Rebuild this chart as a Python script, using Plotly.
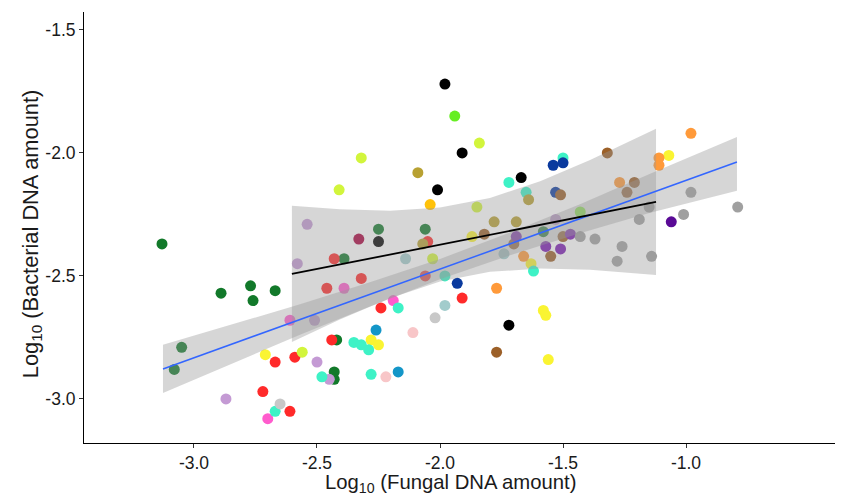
import plotly.graph_objects as go

# ---- scatter data (log10 fungal DNA, log10 bacterial DNA, sample group) ----
fungal_x = [
    -3.13, -2.89, -2.77, -2.76, -2.67, -3.05, -3.08, -2.42, -2.43, -2.43, -2.25, -2.06, -2.39, -1.58,
    -2.54, -2.58, -2.51, -2.50, -2.45, -2.87, -1.53,
    -2.43, -2.46, -2.44, -2.67, -2.59, -2.72, -2.61, -2.05, -2.32, -2.06, -1.91, -2.24,
    -2.39, -2.61, -2.19, -2.70,
    -2.71, -2.28, -2.25, -1.87, -1.63, -1.58, -1.57, -1.56, -1.07,
    -2.56, -2.41, -2.32, -2.03, -1.85, -1.84,
    -2.48, -2.67, -2.35, -2.32, -2.29, -2.28, -2.17, -1.98, -1.72, -1.65, -1.62, -1.50,
    -2.65, -2.02,
    -1.98, -1.91, -2.01, -1.67, -2.25, -1.72,
    -2.09, -1.78, -1.69, -1.64, -2.07,
    -2.04,
    -2.33,
    -2.14, -1.74, -1.98,
    -1.93, -1.54, -1.50, -1.53,
    -1.77, -1.66, -1.27, -1.11, -1.11, -0.98,
    -2.11, -2.22,
    -2.26, -2.17,
    -1.77, -1.32, -1.82, -1.70, -1.21, -1.24, -1.55, -1.50, -1.51,
    -1.69, -1.47, -1.57, -1.51,
    -1.06,
    -1.43, -1.37, -1.26, -1.28, -1.14, -1.19, -1.15, -0.98, -1.01, -0.79,
    -1.94,
    -1.43,
]
bacterial_y = [
    -2.37, -2.57, -2.54, -2.60, -2.56, -2.79, -2.88, -2.76, -2.89, -2.92, -2.31, -2.31, -2.43, -2.32,
    -2.29, -2.45, -2.68, -2.85, -2.92, -3.00, -2.27,
    -2.43, -2.55, -2.76, -2.85, -2.83, -2.97, -3.05, -2.36, -2.51, -2.50, -2.59, -2.63,
    -2.55, -2.68, -2.60, -3.08,
    -2.82, -2.76, -2.78, -2.34, -2.45, -2.64, -2.66, -2.84, -2.01,
    -2.81, -2.15, -2.02, -2.43, -2.22, -1.96,
    -2.91, -3.05, -2.77, -2.78, -2.80, -2.90, -2.63, -2.50, -2.12, -2.16, -2.48, -2.02,
    -3.02, -2.67,
    -1.72, -2.00, -2.15, -2.10, -2.36, -2.70,
    -2.08, -2.28, -2.28, -2.19, -2.37,
    -2.21,
    -2.35,
    -2.43, -2.41, -2.62,
    -2.53, -2.05, -2.04, -2.16,
    -2.55, -2.42, -2.12, -2.02, -2.05, -1.92,
    -2.73, -2.91,
    -2.72, -2.89,
    -2.81, -2.00, -2.33, -2.37, -2.12, -2.16, -2.42, -2.34, -2.17,
    -2.34, -2.33, -2.38, -2.39,
    -2.28,
    -2.34, -2.35, -2.38, -2.44, -2.42, -2.27, -2.22, -2.16, -2.25, -2.22,
    -1.85,
    -2.24,
]
sample_group = (
    ["G01"] * 14 + ["G02"] * 7 + ["G03"] * 12 + ["G04"] * 4 + ["G05"] * 9 + ["G06"] * 6
    + ["G07"] * 12 + ["G08"] * 2 + ["G09"] * 6 + ["G10"] * 5 + ["G11"] * 1 + ["G12"] * 1
    + ["G13"] * 3 + ["G14"] * 4 + ["G15"] * 6 + ["G16"] * 2 + ["G17"] * 2 + ["G18"] * 9
    + ["G19"] * 4 + ["G20"] * 1 + ["G21"] * 10 + ["G22"] * 1 + ["G23"] * 1
)

# ---- fitted lines and confidence bands ----
all_fit_x = [-3.126, -0.793]
all_fit_y = [-2.878, -2.037]
all_band_x = [-3.126, -2.854, -2.569, -2.285, -2.000, -1.715, -1.431, -1.146, -0.793]
all_band_hi = [-2.780, -2.700, -2.615, -2.526, -2.431, -2.323, -2.208, -2.085, -1.935]
all_band_lo = [-2.976, -2.859, -2.739, -2.624, -2.513, -2.416, -2.326, -2.243, -2.154]

sub_fit_x = [-2.602, -1.122]
sub_fit_y = [-2.492, -2.199]
sub_band_x = [-2.602, -2.407, -2.203, -2.000, -1.797, -1.593, -1.390, -1.122]
sub_band_hi = [-2.215, -2.229, -2.235, -2.222, -2.183, -2.115, -2.029, -1.902]
sub_band_lo = [-2.768, -2.677, -2.591, -2.523, -2.483, -2.470, -2.475, -2.496]

x_tick_vals = [-3.0, -2.5, -2.0, -1.5, -1.0]
x_tick_text = ["-3.0", "-2.5", "-2.0", "-1.5", "-1.0"]
y_tick_vals = [-3.0, -2.5, -2.0, -1.5]
y_tick_text = ["-3.0", "-2.5", "-2.0", "-1.5"]
x_title = "Log<sub>10</sub> (Fungal DNA amount)"
y_title = "Log<sub>10</sub> (Bacterial DNA amount)"

palette = {
    "G01": "#12792a", "G02": "#c49ad4", "G03": "#ff2a2a", "G04": "#ff5ccd",
    "G05": "#faf432", "G06": "#d2f53c", "G07": "#3ef2c6", "G08": "#c8c8c8",
    "G09": "#000000", "G10": "#b8a132", "G11": "#ffc20a", "G12": "#a8003c",
    "G13": "#a2cccc", "G14": "#0a3a9e", "G15": "#ff9a3a", "G16": "#f8c6c8",
    "G17": "#1496c8", "G18": "#9c6028", "G19": "#7a1ab2", "G20": "#5a0a96",
    "G21": "#a0a0a0", "G22": "#66ee22", "G23": "#8aff3a",
}

FONT = "Liberation Sans, Arial, sans-serif"
band_fill = "rgba(153,153,153,0.4)"

fig = go.Figure()
fig.add_trace(go.Scatter(
    x=fungal_x, y=bacterial_y, mode="markers",
    marker=dict(size=11, color=[palette[g] for g in sample_group], line=dict(width=0)),
    showlegend=False, hoverinfo="x+y",
))
fig.add_trace(go.Scatter(
    x=sub_band_x + sub_band_x[::-1], y=sub_band_hi + sub_band_lo[::-1],
    fill="toself", fillcolor=band_fill, line=dict(width=0), mode="lines",
    showlegend=False, hoverinfo="skip",
))
fig.add_trace(go.Scatter(
    x=all_band_x + all_band_x[::-1], y=all_band_hi + all_band_lo[::-1],
    fill="toself", fillcolor=band_fill, line=dict(width=0), mode="lines",
    showlegend=False, hoverinfo="skip",
))
fig.add_trace(go.Scatter(
    x=all_fit_x, y=all_fit_y, mode="lines",
    line=dict(color="#3366FF", width=1.5), showlegend=False,
))
fig.add_trace(go.Scatter(
    x=sub_fit_x, y=sub_fit_y, mode="lines",
    line=dict(color="#000000", width=1.8), showlegend=False,
))

axis_common = dict(
    showgrid=False, zeroline=False, showline=True, linecolor="#000000", linewidth=1,
    ticks="outside", ticklen=4, tickwidth=1, tickcolor="#333333", automargin=False,
    tickfont=dict(family=FONT, size=17.5, color="#1a1a1a"),
)
fig.update_layout(
    width=835, height=487,
    margin=dict(l=76, r=0, t=4, b=52),
    plot_bgcolor="white", paper_bgcolor="white",
    xaxis=dict(range=[-3.447, -0.362], tickvals=x_tick_vals, ticktext=x_tick_text, **axis_common),
    yaxis=dict(range=[-3.179, -1.427], tickvals=y_tick_vals, ticktext=y_tick_text, **axis_common),
    annotations=[
        dict(text=x_title, xref="x", yref="paper", x=-1.959, y=0, yanchor="middle",
             yshift=-40, showarrow=False,
             font=dict(family=FONT, size=20.3, color="#1a1a1a")),
        dict(text=y_title, xref="paper", yref="y", x=0, y=-2.33, xanchor="center",
             xshift=-52, textangle=-90, showarrow=False,
             font=dict(family=FONT, size=21.8, color="#1a1a1a")),
    ],
)

fig.write_html("out.html")
